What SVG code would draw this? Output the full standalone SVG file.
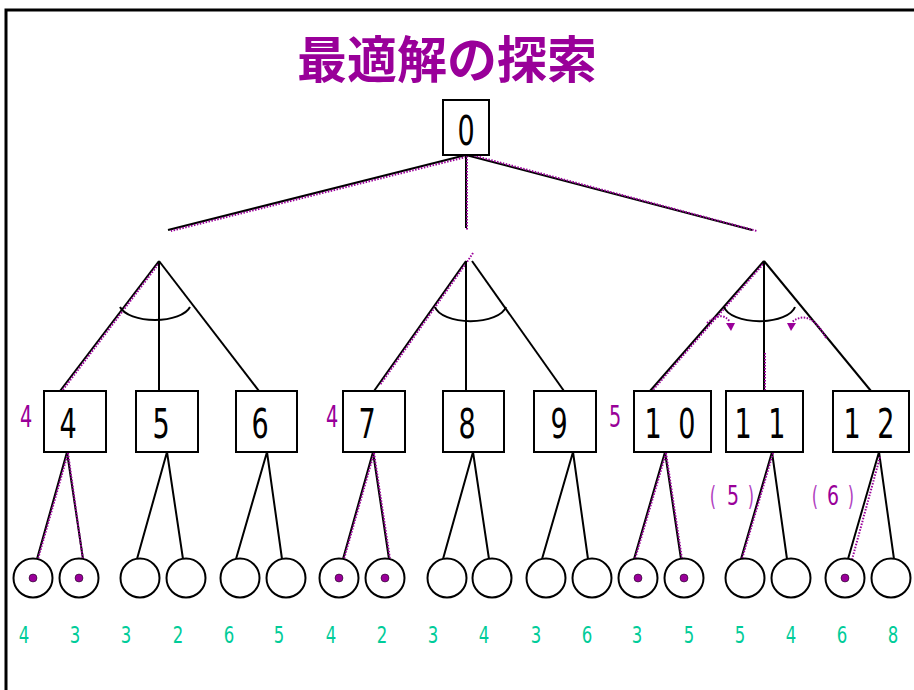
<svg xmlns="http://www.w3.org/2000/svg" width="914" height="690" viewBox="0 0 914 690">
<style>
.frame{fill:none;stroke:#000;stroke-width:3}
.box{fill:#fff;stroke:#000;stroke-width:2}
.leaf{fill:#fff;stroke:#000;stroke-width:2}
.dot{fill:#990099;stroke:#000;stroke-width:0.5}
.ln{fill:none;stroke:#000;stroke-width:2}
.pd{fill:none;stroke:#990099;stroke-width:2;stroke-dasharray:1.5 1.5}
.title{font-family:"Noto Sans CJK JP","Noto Sans CJK SC",sans-serif;font-weight:bold;font-size:50px;fill:#990099}
.num{font-family:"DejaVu Sans",sans-serif;font-size:41px;fill:#000;text-anchor:middle}
.val{font-family:"DejaVu Sans",sans-serif;font-size:23px;fill:#00CC99;text-anchor:middle}
.pl{font-family:"DejaVu Sans",sans-serif;font-size:31px;fill:#990099;text-anchor:middle}
.pv{font-family:"DejaVu Sans",sans-serif;font-size:27px;fill:#990099;text-anchor:middle}
.pp{font-family:"DejaVu Sans",sans-serif;font-size:27px;fill:#B040C0;text-anchor:middle}
.arr{fill:#990099}
</style>
<rect width="914" height="690" fill="#fff"/>
<path class="frame" d="M6 690 V10 H914"/>
<text class="title" x="447" y="78" text-anchor="middle">最適解の探索</text>

<g id="connectors">
  <path class="ln" d="M466 155 L168 230"/>
  <path class="pd" d="M466 157 L171 231"/>
  <path class="ln" d="M466 155 L466 228"/>
  <path class="pd" d="M467 156 L467 230"/>
  <path class="ln" d="M466 155 L752 230"/>
  <path class="pd" d="M468 154 L757 231"/>
  <path class="ln" d="M159 261 L60 391"/>
  <path class="pd" d="M160 262 L62 391"/>
  <path class="ln" d="M159 261 L159 391"/>
  <path class="ln" d="M159 261 L259 391"/>
  <path class="ln" d="M120 307 A36 17 0 0 0 190 307"/>
  <path class="ln" d="M466 261 L374 391"/>
  <path class="pd" d="M473 253 L467 262 L380 385"/>
  <path class="ln" d="M466 261 L466 391"/>
  <path class="ln" d="M472 261 L564 391"/>
  <path class="ln" d="M435 307 A36 17 0 0 0 506 307"/>
  <path class="ln" d="M764 261 L650 391"/>
  <path class="pd" d="M765 262 L652 391"/>
  <path class="ln" d="M764 261 L764 391"/>
  <path class="pd" d="M765 353 L765 391"/>
  <path class="ln" d="M764 261 L871 391"/>
  <path class="ln" d="M724 307 A36 17 0 0 0 795 307"/>
  <path class="pd" d="M707 323 Q722 310 730 322"/>
  <polygon class="arr" points="726,323 735,323 731,331"/>
  <path class="pd" d="M826 338 Q810 308 792 322"/>
  <polygon class="arr" points="787,323 796,323 791,331"/>
  <path class="ln" d="M67 452 L37 559 M67 452 L83 559"/>
  <path class="pd" d="M68 453 L38 559 M68 453 L84 567"/>
  <path class="ln" d="M167 452 L137 559 M167 452 L183 559"/>
  <path class="ln" d="M267 452 L236 559 M267 452 L282 559"/>
  <path class="ln" d="M373 452 L343 559 M373 452 L389 559"/>
  <path class="pd" d="M374 453 L344 559 M374 453 L390 559"/>
  <path class="ln" d="M473 452 L443 559 M473 452 L489 559"/>
  <path class="ln" d="M573 452 L542 559 M573 452 L588 559"/>
  <path class="ln" d="M665 452 L634 559 M665 452 L681 559"/>
  <path class="pd" d="M666 453 L635 559 M666 453 L682 559"/>
  <path class="ln" d="M772 452 L741 559 M772 452 L787 559"/>
  <path class="pd" d="M773 453 L742 559"/>
  <path class="ln" d="M879 452 L848 559 M879 452 L894 559"/>
  <path class="pd" d="M880 457 L850 567"/>
</g>

<g id="n0"><rect class="box" x="443" y="100" width="46" height="55"/><text class="num" transform="translate(466,145) scale(0.66,1)">0</text></g>
<g id="n4"><rect class="box" x="44" y="391" width="62" height="61"/><text class="num" transform="translate(68,438) scale(0.66,1)">4</text><text class="pl" transform="translate(26,427) scale(0.62,1)">4</text></g>
<g id="n5"><rect class="box" x="136" y="391" width="62" height="61"/><text class="num" transform="translate(161,438) scale(0.66,1)">5</text></g>
<g id="n6"><rect class="box" x="236" y="391" width="61" height="61"/><text class="num" transform="translate(260,438) scale(0.66,1)">6</text></g>
<g id="n7"><rect class="box" x="343" y="391" width="62" height="61"/><text class="num" transform="translate(367,438) scale(0.66,1)">7</text><text class="pl" transform="translate(332,427) scale(0.62,1)">4</text></g>
<g id="n8"><rect class="box" x="443" y="391" width="61" height="61"/><text class="num" transform="translate(467,438) scale(0.66,1)">8</text></g>
<g id="n9"><rect class="box" x="534" y="391" width="62" height="61"/><text class="num" transform="translate(559,438) scale(0.66,1)">9</text></g>
<g id="n10"><rect class="box" x="634" y="391" width="77" height="61"/><text class="num" transform="translate(672,438) scale(0.66,1)" letter-spacing="6">1 0</text><text class="pl" transform="translate(615,427) scale(0.62,1)">5</text></g>
<g id="n11"><rect class="box" x="726" y="391" width="77" height="61"/><text class="num" transform="translate(762,438) scale(0.66,1)" letter-spacing="6">1 1</text>
  <text class="pp" transform="translate(713,505) scale(0.6,1)">(</text><text class="pv" transform="translate(733,505) scale(0.7,1)">5</text><text class="pp" transform="translate(751,505) scale(0.6,1)">)</text></g>
<g id="n12"><rect class="box" x="833" y="391" width="76" height="61"/><text class="num" transform="translate(871,438) scale(0.66,1)" letter-spacing="6">1 2</text>
  <text class="pp" transform="translate(815,505) scale(0.6,1)">(</text><text class="pv" transform="translate(833,505) scale(0.7,1)">6</text><text class="pp" transform="translate(851,505) scale(0.6,1)">)</text></g>

<g id="leaves">
  <circle class="leaf" cx="33" cy="578" r="19.5"/><circle class="dot" cx="33" cy="578" r="4"/>
  <circle class="leaf" cx="79" cy="578" r="19.5"/><circle class="dot" cx="79" cy="578" r="4"/>
  <circle class="leaf" cx="140" cy="578" r="19.5"/>
  <circle class="leaf" cx="186" cy="578" r="19.5"/>
  <circle class="leaf" cx="240" cy="578" r="19.5"/>
  <circle class="leaf" cx="286" cy="578" r="19.5"/>
  <circle class="leaf" cx="339" cy="578" r="19.5"/><circle class="dot" cx="339" cy="578" r="4"/>
  <circle class="leaf" cx="385" cy="578" r="19.5"/><circle class="dot" cx="385" cy="578" r="4"/>
  <circle class="leaf" cx="447" cy="578" r="19.5"/>
  <circle class="leaf" cx="492" cy="578" r="19.5"/>
  <circle class="leaf" cx="546" cy="578" r="19.5"/>
  <circle class="leaf" cx="592" cy="578" r="19.5"/>
  <circle class="leaf" cx="638" cy="578" r="19.5"/><circle class="dot" cx="638" cy="578" r="4"/>
  <circle class="leaf" cx="684" cy="578" r="19.5"/><circle class="dot" cx="684" cy="578" r="4"/>
  <circle class="leaf" cx="745" cy="578" r="19.5"/>
  <circle class="leaf" cx="791" cy="578" r="19.5"/>
  <circle class="leaf" cx="845" cy="578" r="19.5"/><circle class="dot" cx="845" cy="578" r="4"/>
  <circle class="leaf" cx="891" cy="578" r="19.5"/>
</g>

<g id="values">
  <text class="val" transform="translate(24,643) scale(0.72,1)">4</text>
  <text class="val" transform="translate(75,643) scale(0.72,1)">3</text>
  <text class="val" transform="translate(126,643) scale(0.72,1)">3</text>
  <text class="val" transform="translate(178,643) scale(0.72,1)">2</text>
  <text class="val" transform="translate(229,643) scale(0.72,1)">6</text>
  <text class="val" transform="translate(279,643) scale(0.72,1)">5</text>
  <text class="val" transform="translate(331,643) scale(0.72,1)">4</text>
  <text class="val" transform="translate(382,643) scale(0.72,1)">2</text>
  <text class="val" transform="translate(433,643) scale(0.72,1)">3</text>
  <text class="val" transform="translate(484,643) scale(0.72,1)">4</text>
  <text class="val" transform="translate(536,643) scale(0.72,1)">3</text>
  <text class="val" transform="translate(587,643) scale(0.72,1)">6</text>
  <text class="val" transform="translate(637,643) scale(0.72,1)">3</text>
  <text class="val" transform="translate(689,643) scale(0.72,1)">5</text>
  <text class="val" transform="translate(740,643) scale(0.72,1)">5</text>
  <text class="val" transform="translate(791,643) scale(0.72,1)">4</text>
  <text class="val" transform="translate(842,643) scale(0.72,1)">6</text>
  <text class="val" transform="translate(893,643) scale(0.72,1)">8</text>
</g>
</svg>
